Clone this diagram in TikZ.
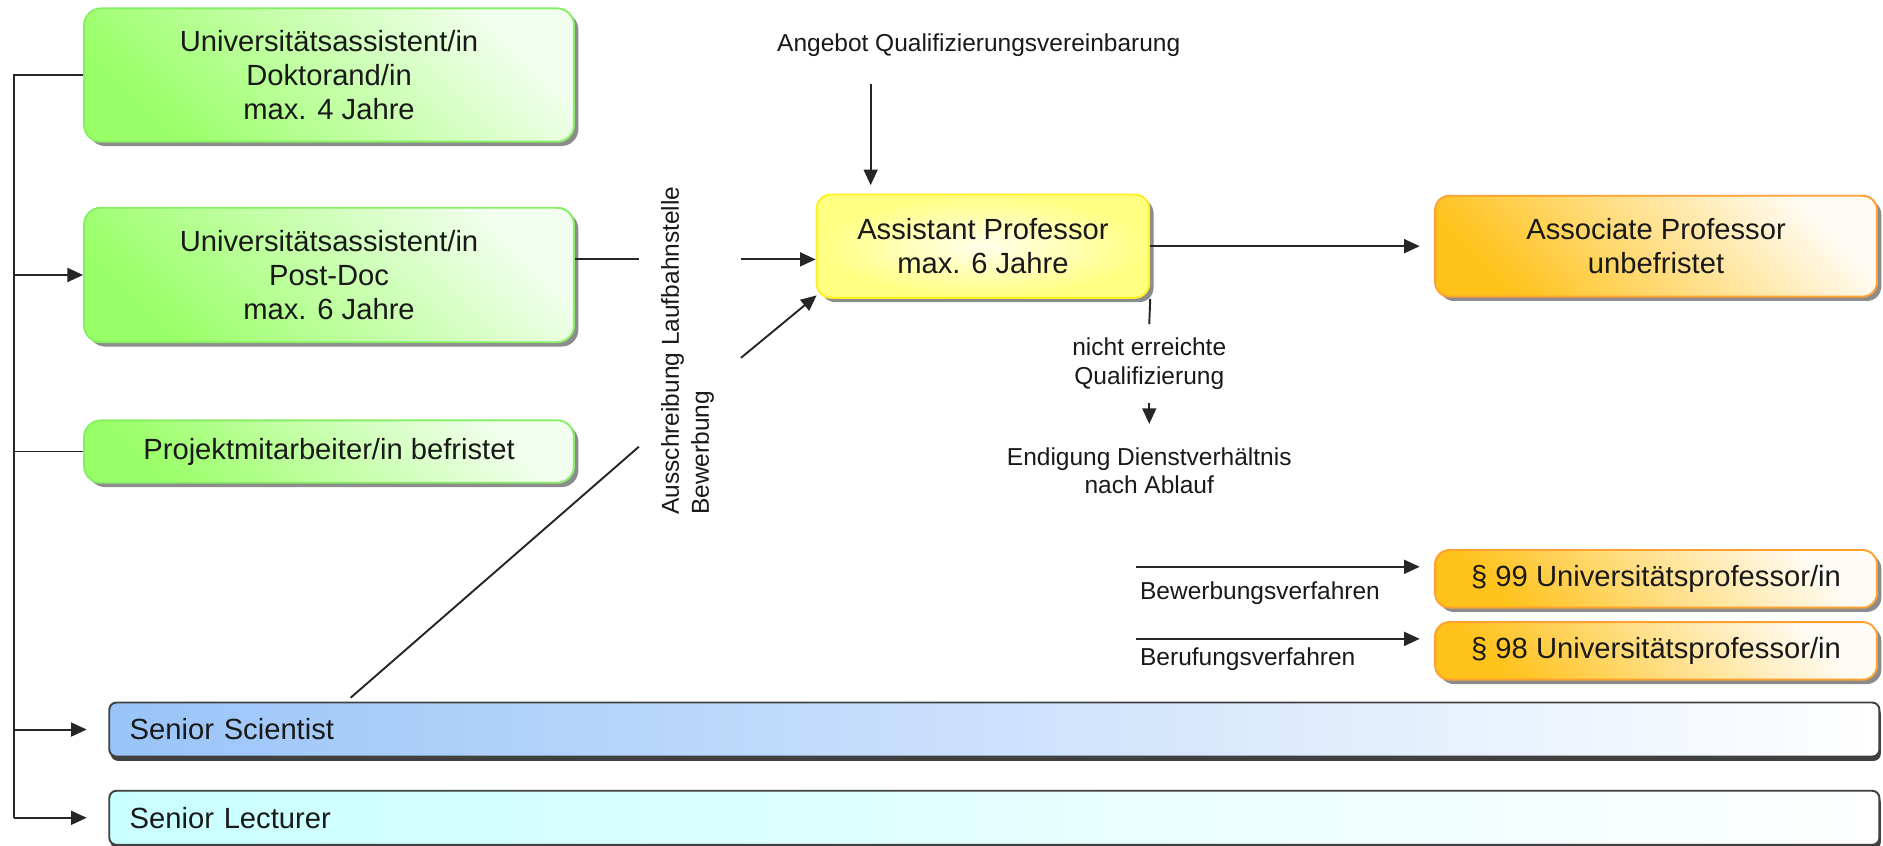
\documentclass[tikz,border=0pt]{standalone}
\usepackage{fontspec}
\setmainfont{Liberation Sans}
\usetikzlibrary{arrows.meta,shadows}
\definecolor{grnA}{HTML}{99FF66}
\definecolor{grnB}{HTML}{F2FFEE}
\definecolor{grnE}{HTML}{88EE66}
\definecolor{yelA}{HTML}{FFFF80}
\definecolor{yelE}{HTML}{FFEE22}
\definecolor{orA}{HTML}{FFC21A}
\definecolor{orB}{HTML}{FFFCF6}
\definecolor{orE}{HTML}{FFA030}
\definecolor{bluA}{HTML}{99C4F8}
\definecolor{cyaA}{HTML}{C8FFFF}
\tikzset{
  bigtxt/.style={font=\fontsize{12.15}{14}\selectfont, text=black!90},
  smalltxt/.style={font=\fontsize{10.2}{12}\selectfont, text=black!90, align=center, inner sep=0pt},
  box/.style={bigtxt, rounded corners=7pt, inner sep=0pt, align=center, line width=0.8pt},
  shad/.style={drop shadow={shadow xshift=1.8pt, shadow yshift=-1.8pt, fill=black!45, opacity=1}},
  greenbox/.style={box, shad, draw=grnE, top color=grnB, bottom color=grnA, shading angle=-45},
  yellowbox/.style={box, shad, rounded corners=6pt, draw=yelE, shading=radial, inner color=yelA!15, outer color=yelA},
  orangebox/.style={box, shad, rounded corners=6pt, draw=orE, top color=orB, bottom color=orA, shading angle=-45},
  bar/.style={bigtxt, rounded corners=3pt, draw=black!75, line width=0.8pt, inner ysep=0pt, inner xsep=8.5pt,
    text width=720pt, align=left, minimum height=22.5pt,
    drop shadow={shadow xshift=0.6pt, shadow yshift=-1.8pt, fill=black!75, opacity=1}},
  conn/.style={draw=black!85, line width=0.8pt},
  arr/.style={conn, -{Triangle[length=6.5pt,width=5.8pt]}},
}
\begin{document}
\begin{tikzpicture}[x=0.5pt,y=-0.5pt]
\useasboundingbox (0,0) rectangle (1568,704);

% left column boxes
\node[greenbox, minimum width=204pt, minimum height=55.5pt] (doc) at (274,62.5)
  {Universitätsassistent/in\\Doktorand/in\\max. 4 Jahre};
\node[greenbox, minimum width=204pt, minimum height=56pt] (postdoc) at (274,229)
  {Universitätsassistent/in\\Post-Doc\\max. 6 Jahre};
\node[greenbox, minimum width=204pt, minimum height=26pt] (proj) at (274,376)
  {Projektmitarbeiter/in befristet};

% bars
\node[bar, left color=bluA, right color=white] (sensci) at (828,607.5) {Senior Scientist};
\node[bar, left color=cyaA, right color=white] (senlec) at (828,681) {Senior Lecturer};

% professor boxes
\node[yellowbox, minimum width=138.5pt, minimum height=43pt] (ap) at (818.5,205)
  {Assistant Professor\\max. 6 Jahre};
\node[orangebox, minimum width=184pt, minimum height=42pt] (assoc) at (1379,205)
  {Associate Professor\\unbefristet};
\node[orangebox, minimum width=184pt, minimum height=24pt] (p99) at (1379,482)
  {§ 99 Universitätsprofessor/in};
\node[orangebox, minimum width=184pt, minimum height=24pt] (p98) at (1379,542)
  {§ 98 Universitätsprofessor/in};

% texts
\node[smalltxt] (ang) at (815,38) {Angebot Qualifizierungsvereinbarung};
\node[smalltxt, rotate=90, anchor=west, align=left, font=\fontsize{10.2}{12.5}\selectfont] (aus) at (572.5,429)
  {Ausschreibung Laufbahnstelle\\Bewerbung};
\node[smalltxt] (nicht) at (957,303) {nicht erreichte\\Qualifizierung};
\node[smalltxt] (endig) at (957,392) {Endigung Dienstverhältnis\\nach Ablauf};
\node[smalltxt, anchor=west] (bwl) at (949,494) {Bewerbungsverfahren};
\node[smalltxt, anchor=west] (bfl) at (949,549) {Berufungsverfahren};

% trunk on the left
\coordinate (trunkB) at (12,681);
\draw[conn] (doc.west) -| (trunkB);
\draw[arr] (trunkB |- postdoc.west) -- (postdoc.west);
\draw[conn] (trunkB |- proj.west) -- (proj.west);
\draw[arr, shorten >=9pt] (trunkB |- sensci.west) -- (sensci.west);
\draw[arr, shorten >=9pt] (trunkB) -- (senlec.west);

% into assistant professor
\coordinate (angA) at (725,70);
\draw[arr, shorten >=3.5pt] (angA) -- (angA |- ap.north);
\coordinate (pdL) at (532,216);
\coordinate (pdR) at (617,216);
\draw[conn] (postdoc.east |- pdL) -- (pdL);
\draw[arr] (pdR) -- (ap.west |- pdR);
\coordinate (ssA) at (292,581);
\coordinate (ssB) at (532,372);
\coordinate (ssC) at (617,298);
\coordinate (ssD) at (680,246);
\draw[conn] (ssA) -- (ssB);
\draw[arr] (ssC) -- (ssD);

% out of assistant professor
\draw[arr, shorten >=6pt] (ap.east) -- (assoc.west);
\coordinate (failA) at (957,270);
\draw[conn] (ap.south east) -- (failA);
\coordinate (endA) at (957,336);
\coordinate (endB) at (957,353);
\draw[arr] (endA) -- (endB);

% procedures
\coordinate (bw) at (946,472);
\draw[arr, shorten >=6pt] (bw) -- (bw -| p99.west);
\coordinate (bf) at (946,532);
\draw[arr, shorten >=6pt] (bf) -- (bf -| p98.west);
\end{tikzpicture}
\end{document}
